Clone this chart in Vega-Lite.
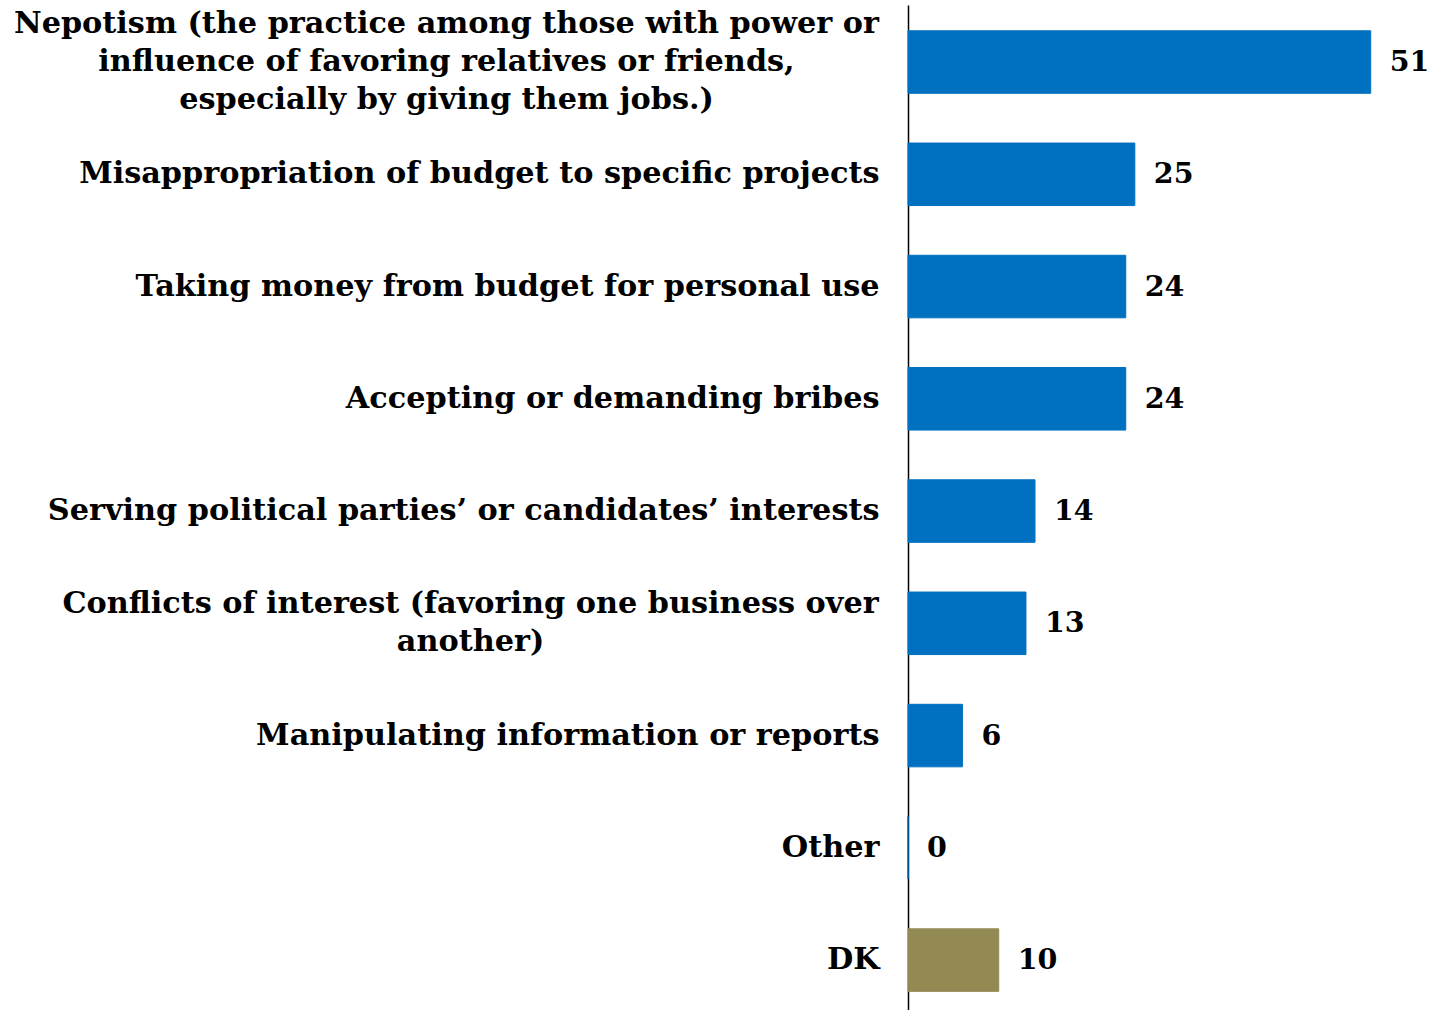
{
  "$schema": "https://vega.github.io/schema/vega-lite/v6.json",
  "width": 499,
  "height": 1005,
  "autosize": {"type": "none"},
  "padding": {"left": 908, "top": 5, "right": 24, "bottom": 0},
  "background": "white",
  "config": {"view": {"stroke": null}},
  "data": {
    "values": [
      {"item": "Nepotism (the practice among those with power or|influence of favoring relatives or friends,|especially by giving them jobs.)", "value": 51},
      {"item": "Misappropriation of budget to specific projects", "value": 25},
      {"item": "Taking money from budget for personal use", "value": 24},
      {"item": "Accepting or demanding bribes", "value": 24},
      {"item": "Serving political parties’ or candidates’ interests", "value": 14},
      {"item": "Conflicts of interest (favoring one business over|another)", "value": 13},
      {"item": "Manipulating information or reports", "value": 6},
      {"item": "Other", "value": 0},
      {"item": "DK", "value": 10}
    ]
  },
  "encoding": {
    "y": {
      "field": "item",
      "type": "nominal",
      "sort": null,
      "scale": {"paddingInner": 0.443, "paddingOuter": 0.198, "align": 0.58},
      "axis": {
        "title": null,
        "ticks": false,
        "domainColor": "black",
        "domainWidth": 1.5,
        "labelFont": "DejaVu Serif",
        "labelFontWeight": "bold",
        "labelFontSize": 30.3,
        "labelColor": "black",
        "labelPadding": 29,
        "labelLimit": 0,
        "labelLineHeight": 38,
        "labelExpr": "split(datum.label, '|')",
        "encoding": {
          "labels": {
            "align": {"condition": {"test": "indexof(datum.value, '|') >= 0", "value": "center"}, "value": "right"},
            "dx": {"condition": [
              {"test": "indexof(datum.value, 'Nepotism') == 0", "value": -433},
              {"test": "indexof(datum.value, 'Conflicts') == 0", "value": -409}
            ], "value": 0},
            "dy": {"condition": [
              {"test": "indexof(datum.value, 'Nepotism') == 0", "value": -38},
              {"test": "indexof(datum.value, 'Conflicts') == 0", "value": -19}
            ], "value": 0}
          }
        }
      }
    },
    "x": {
      "field": "value",
      "type": "quantitative",
      "scale": {"domain": [0, 55]},
      "axis": null
    }
  },
  "layer": [
    {
      "mark": {"type": "bar", "strokeWidth": 1},
      "encoding": {
        "color": {"condition": {"test": "datum.item === 'DK'", "value": "#938953"}, "value": "#0070C0"},
        "stroke": {"condition": {"test": "datum.item === 'DK'", "value": "#938953"}, "value": "#0070C0"}
      }
    },
    {
      "mark": {"type": "text", "align": "left", "baseline": "middle", "dx": 19, "font": "DejaVu Serif", "fontWeight": "bold", "fontSize": 28.5, "color": "black"},
      "encoding": {"text": {"field": "value", "type": "quantitative"}}
    }
  ]
}
